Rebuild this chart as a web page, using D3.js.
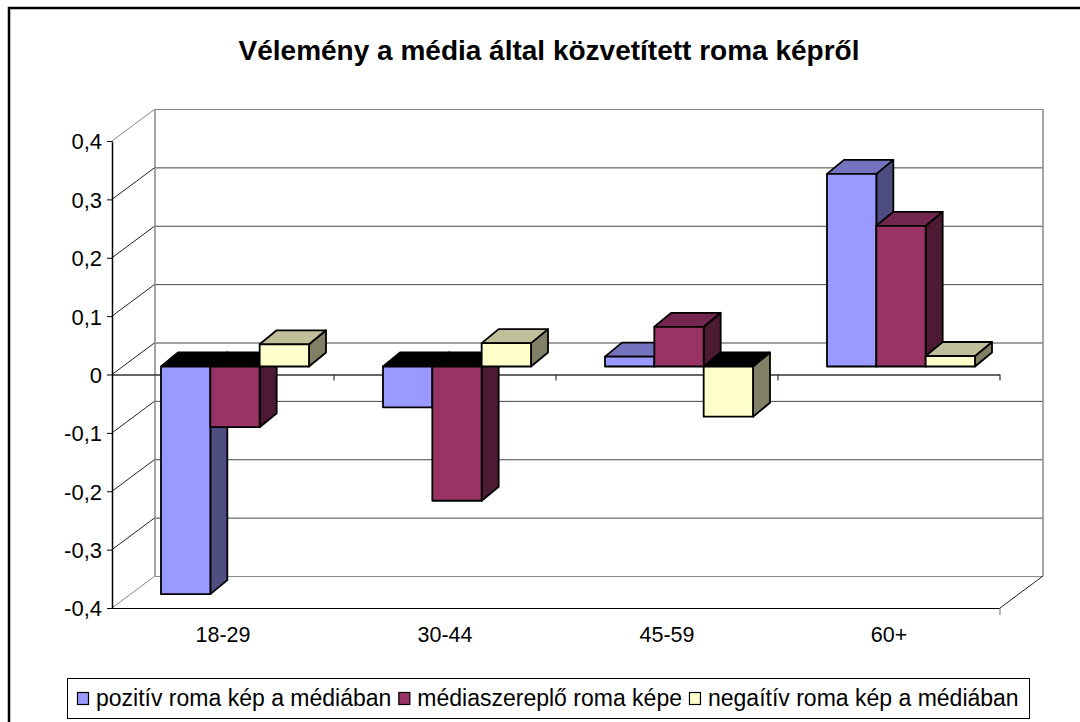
<!DOCTYPE html>
<html>
<head>
<meta charset="utf-8">
<script src="https://cdn.jsdelivr.net/npm/d3@7"></script>
<style>
  body { margin: 0; background: #fff; }
  svg text { font-family: "Liberation Sans", Arial, sans-serif; fill: #000; }
</style>
</head>
<body>
<svg id="chart" width="1080" height="722"></svg>
<script>
'use strict';

// data
const title = 'Vélemény a média által közvetített roma képről';
const categories = ['18-29', '30-44', '45-59', '60+'];
const seriesNames = ['pozitív roma kép a médiában', 'médiaszereplő roma képe', 'negaítív roma kép a médiában'];
const pozitiv = [-0.39, -0.07, 0.017, 0.33];
const szereplo = [-0.104, -0.23, 0.068, 0.241];
const negativ = [0.038, 0.04, -0.086, 0.018];
const yTicks = [-0.4, -0.3, -0.2, -0.1, 0, 0.1, 0.2, 0.3, 0.4];

const series = [pozitiv, szereplo, negativ];
const faces = [
	{front: '#9999FF', top: '#7373BF', side: '#4D4D80'},
	{front: '#993366', top: '#732650', side: '#4D1A33'},
	{front: '#FFFFCC', top: '#BFBF99', side: '#808066'}
];

const svg = d3.select('#chart');

// frame
svg.append('rect')
	.attr('x', 9).attr('y', 8).attr('width', 1100).attr('height', 740)
	.attr('fill', 'none').attr('stroke', '#000').attr('stroke-width', 2.5);

svg.append('text')
	.attr('x', 549).attr('y', 60)
	.attr('text-anchor', 'middle')
	.attr('font-size', 28).attr('font-weight', 'bold')
	.text(title);

// plot geometry (front plane + depth offset for the back wall)
const left = 112, right = 1000;
const depth = {x: 43, y: -32};
const barOff = {x: 12, y: -8};   // front face of the bars
const barDepth = {x: 17, y: -14};

const x = d3.scaleBand().domain(categories).range([left, right]);
const y = d3.scaleLinear().domain([-0.4, 0.4]).range([608, 141]);
const barW = x.bandwidth() / 4.5;
const xs = d3.scaleBand().domain(d3.range(series.length)).range([0.75 * barW, 3.75 * barW]);

const g = svg.append('g');
const line = (x1, y1, x2, y2, color, w) => g.append('line')
	.attr('x1', x1).attr('y1', y1).attr('x2', x2).attr('y2', y2)
	.attr('stroke', color).attr('stroke-width', w || 1);

// back wall gridlines + side wall diagonals
yTicks.forEach(v => {
	const edge = v === 0.4 || v === -0.4;
	const c = edge ? '#888' : '#222';
	line(left + depth.x, y(v) + depth.y + 0.5, right + depth.x, y(v) + depth.y + 0.5, edge ? '#888' : '#444');
	line(left, y(v), left + depth.x, y(v) + depth.y, c);
});
line(left + depth.x, y(0.4) + depth.y, left + depth.x, y(-0.4) + depth.y, '#888', 1.5);
line(right + depth.x, y(0.4) + depth.y, right + depth.x, y(-0.4) + depth.y, '#888', 1.5);
line(right, y(-0.4), right + depth.x, y(-0.4) + depth.y, '#222');

// floor front edge and zero axis
line(left, y(-0.4) + 0.5, right, y(-0.4) + 0.5, '#000', 1.2);
line(left, y(0) + 0.5, right, y(0) + 0.5, '#333', 1.5);
const bounds = categories.map(c => x(c)).concat([right]);
bounds.slice(1).forEach(b => {
	line(b, y(0), b, y(0) + 6, '#333', 1.2);
});
line(right, y(-0.4), right, y(-0.4) + 7, '#888', 1.2);

// y axis
const fmt = d3.formatLocale({decimal: ',', thousands: ' ', grouping: [3], currency: ['', ''], minus: '-'}).format('.1~f');
const yAxis = svg.append('g')
	.attr('transform', `translate(${left},0)`)
	.call(d3.axisLeft(y).tickValues(yTicks).tickSize(5).tickSizeOuter(0).tickPadding(5).tickFormat(fmt));
yAxis.select('.domain').attr('stroke', '#000').attr('stroke-width', 1.5);
yAxis.selectAll('.tick line').attr('stroke', '#000');
yAxis.selectAll('.tick text')
	.attr('font-size', 22).attr('font-family', '"Liberation Sans", Arial, sans-serif')
	.attr('dy', '0.36em');

// category labels
svg.append('g').selectAll('text')
	.data(categories)
	.join('text')
	.attr('x', d => x(d) + x.bandwidth() / 2)
	.attr('y', 642)
	.attr('text-anchor', 'middle')
	.attr('font-size', 21.5)
	.text(d => d);

// bars, drawn left to right so each covers its neighbour's side face
const bars = svg.append('g')
	.attr('stroke', '#000').attr('stroke-width', 1.8).attr('stroke-linejoin', 'round');
const poly = pts => pts.map(p => p.join(',')).join(' ');

categories.forEach((cat, i) => {
	series.forEach((vals, s) => {
		const v = vals[i];
		const x0 = x(cat) + xs(s) + barOff.x;
		const x1 = x0 + xs.bandwidth();
		const yTop = y(Math.max(v, 0)) + barOff.y;
		const yBot = y(Math.min(v, 0)) + barOff.y;
		const dx = barDepth.x, dy = barDepth.y;
		const bar = bars.append('g');
		bar.append('polygon')
			.attr('points', poly([[x1, yTop], [x1 + dx, yTop + dy], [x1 + dx, yBot + dy], [x1, yBot]]))
			.attr('fill', faces[s].side);
		bar.append('polygon')
			.attr('points', poly([[x0, yTop], [x0 + dx, yTop + dy], [x1 + dx, yTop + dy], [x1, yTop]]))
			.attr('fill', v < 0 ? '#000' : faces[s].top);
		bar.append('rect')
			.attr('x', x0).attr('y', yTop)
			.attr('width', x1 - x0).attr('height', yBot - yTop)
			.attr('fill', faces[s].front);
	});
});

// legend
const legend = svg.append('g');
legend.append('rect')
	.attr('x', 67.5).attr('y', 678.5).attr('width', 962).attr('height', 40)
	.attr('fill', '#fff').attr('stroke', '#000').attr('stroke-width', 1);
let lx = 77;
seriesNames.forEach((name, s) => {
	legend.append('rect')
		.attr('x', lx + 0.5).attr('y', 692.5).attr('width', 11).attr('height', 12)
		.attr('fill', faces[s].front).attr('stroke', '#000').attr('stroke-width', 1.2);
	const t = legend.append('text')
		.attr('x', lx + 19).attr('y', 706)
		.attr('font-size', 23)
		.text(name);
	lx += 19 + t.node().getComputedTextLength() + 7;
});
</script>
</body>
</html>
